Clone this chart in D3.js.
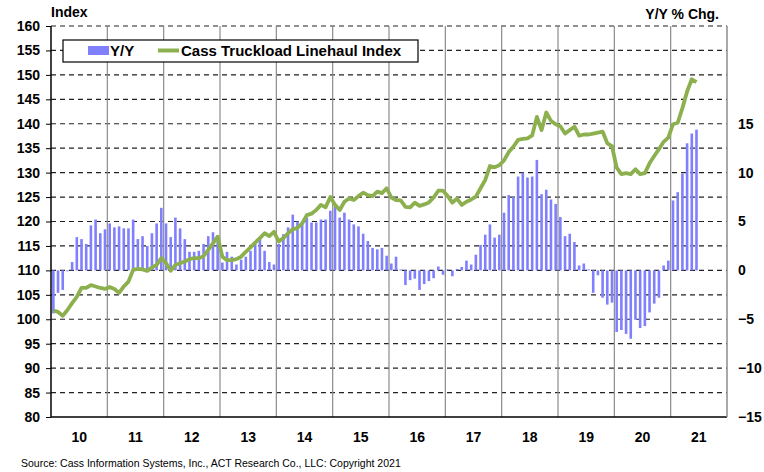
<!DOCTYPE html>
<html><head><meta charset="utf-8">
<script src="https://cdn.jsdelivr.net/npm/d3@7"></script>
<style>body{margin:0;background:#fff}text{font-family:"Liberation Sans",Arial,sans-serif}</style>
</head><body><svg id="c" width="764" height="472"></svg>
<script>
const years = ["10","11","12","13","14","15","16","17","18","19","20","21"];
const yoy = [
-4.4,-2.3,-2.0,-0.1,0.85,3.4,3.2,2.7,4.6,5.2,3.8,4.2,
4.8,4.4,4.5,4.3,4.3,5.2,3.2,3.5,2.5,3.8,4.8,6.4,
4.8,3.4,5.4,4.3,3.2,1.9,1.9,2.0,2.7,3.5,3.9,3.1,
0.8,1.9,1.4,0.6,1.1,1.4,2.0,2.7,3.4,2.0,0.85,0.6,
2.7,3.7,4.4,5.7,5.0,4.9,5.4,4.9,4.9,5.2,5.2,6.1,
6.5,5.4,5.9,5.2,4.7,4.5,3.75,3.0,2.3,2.15,2.3,1.5,
0.7,1.4,0.1,-1.5,-1.0,-0.85,-2.0,-1.4,-1.1,-0.8,0.4,-0.45,
0.1,-0.6,0.15,0.35,1.0,0.6,1.6,2.6,3.65,4.7,3.35,3.65,
5.9,7.7,7.5,9.6,10.0,9.5,9.6,11.3,7.8,8.25,7.25,6.8,
5.45,3.5,3.75,2.9,0.5,0.7,0.1,-2.3,-0.5,-2.8,-3.5,-3.3,
-6.3,-6.1,-6.5,-7.0,-5.05,-5.9,-5.7,-4.3,-3.4,-2.8,0.5,1.0,
7.15,8.0,9.9,13.0,14.0,14.4];
const indexVals = [
101.75,101.5,100.7,101.9,103.3,104.6,106.4,106.4,107.0,106.7,106.4,106.2,
106.6,106.2,105.4,106.7,107.7,110.1,110.3,110.2,109.9,110.6,111.1,112.5,
111.5,109.9,111.1,111.45,111.8,112.3,112.5,112.5,112.9,114.2,115.5,116.9,
112.8,112.1,112.1,112.3,112.8,113.8,114.7,115.7,116.6,117.6,117.0,117.9,
115.9,116.6,117.6,118.4,118.7,119.6,121.3,121.6,122.35,123.4,122.9,125.0,
123.4,122.35,124.05,124.7,124.4,125.2,125.9,125.4,125.2,126.1,125.8,126.8,
124.9,124.4,124.3,123.0,122.9,123.85,123.2,123.5,123.9,124.9,126.3,126.3,
125.2,123.85,124.7,123.4,124.05,124.5,125.1,126.8,128.5,131.35,131.1,131.5,
132.5,134.2,135.3,136.7,136.9,137.0,137.6,141.4,138.7,142.3,140.6,139.9,
139.5,138.0,138.7,139.4,137.55,137.8,137.8,138.0,138.2,138.4,136.0,135.4,
131.0,129.7,129.9,129.7,130.7,129.7,129.9,131.9,133.4,134.8,136.3,137.15,
139.9,140.2,143.2,146.6,149.1,148.5];
const leftTicks = d3.range(80,161,5);
const rightTicks = [-15,-10,-5,0,5,10,15];

const L=51,R=727,T=26,B=417;
const svg=d3.select("#c");
const x=d3.scaleLinear().domain([0,144]).range([L,R]);
const yL=d3.scaleLinear().domain([80,160]).range([B,T]);
const yR=d3.scaleLinear().domain([-15,25]).range([B,T]);

// horizontal dashed grid
svg.append("g").selectAll("line").data(leftTicks.filter(d=>d>80)).join("line")
 .attr("x1",L).attr("x2",R).attr("y1",d=>yL(d)).attr("y2",d=>yL(d))
 .attr("stroke","#222").attr("stroke-width",1.2).attr("stroke-dasharray","5,4");
// vertical year lines
svg.append("g").selectAll("line").data(d3.range(1,12)).join("line")
 .attr("x1",d=>x(d*12)).attr("x2",d=>x(d*12)).attr("y1",T).attr("y2",B)
 .attr("stroke","#8c8c8c").attr("stroke-width",1.2);
// bars
const bw=2.6;
svg.append("g").selectAll("rect").data(yoy).join("rect")
 .attr("x",(d,i)=>x(i+0.5)-bw/2).attr("width",bw)
 .attr("y",d=>Math.min(yR(d),yR(0))).attr("height",d=>Math.abs(yR(d)-yR(0)))
 .attr("fill","#8080ff");
// line
svg.append("path").datum(indexVals)
 .attr("d",d3.line().x((d,i)=>x(i+0.5)).y(d=>yL(d)))
 .attr("fill","none").attr("stroke","#8db04f").attr("stroke-width",3.8).attr("stroke-linejoin","round");

// axes
const ax=svg.append("g").attr("transform",`translate(${L},0)`).call(d3.axisLeft(yL).tickValues(leftTicks).tickSize(5).tickPadding(6));
ax.selectAll("text").attr("font-size",14).attr("font-weight","bold").attr("fill","#000");
ax.select(".domain").remove();
ax.selectAll("line").attr("stroke","#000");
svg.append("line").attr("x1",L).attr("x2",L).attr("y1",T).attr("y2",B).attr("stroke","#000").attr("stroke-width",1.5);
svg.append("line").attr("x1",L).attr("x2",R).attr("y1",B).attr("y2",B).attr("stroke","#000").attr("stroke-width",1.5);
svg.append("line").attr("x1",R).attr("x2",R).attr("y1",T).attr("y2",B).attr("stroke","#8c8c8c").attr("stroke-width",1.5);
const ar=svg.append("g").attr("transform",`translate(${R},0)`).call(d3.axisRight(yR).tickValues(rightTicks).tickSize(0).tickPadding(11));
ar.select(".domain").remove();
ar.selectAll("text").attr("font-size",14).attr("font-weight","bold").attr("fill","#000");
// year labels
svg.append("g").selectAll("text").data(years).join("text")
 .attr("x",(d,i)=>x(i*12+6)).attr("y",442).attr("text-anchor","middle")
 .attr("font-size",14).attr("font-weight","bold").text(d=>d);

svg.append("text").attr("x",51).attr("y",17).attr("font-size",14).attr("font-weight","bold").text("Index");
svg.append("text").attr("x",719).attr("y",19).attr("text-anchor","end").attr("font-size",14).attr("font-weight","bold").text("Y/Y % Chg.");
svg.append("text").attr("x",21).attr("y",467).attr("font-size",10.5).text("Source: Cass Information Systems, Inc., ACT Research Co., LLC: Copyright 2021");

// legend
const lg=svg.append("g");
lg.append("rect").attr("x",63).attr("y",40).attr("width",355).attr("height",22).attr("fill","#fff").attr("stroke","#000").attr("stroke-width",1.2);
lg.append("rect").attr("x",88).attr("y",46).attr("width",21).attr("height",9).attr("fill","#8080ff");
lg.append("text").attr("x",110).attr("y",56).attr("font-size",15).attr("font-weight","bold").text("Y/Y");
lg.append("line").attr("x1",158).attr("x2",179).attr("y1",50.5).attr("y2",50.5).attr("stroke","#8db04f").attr("stroke-width",4);
lg.append("text").attr("x",181).attr("y",56).attr("font-size",15).attr("font-weight","bold").text("Cass Truckload Linehaul Index");
</script></body></html>
